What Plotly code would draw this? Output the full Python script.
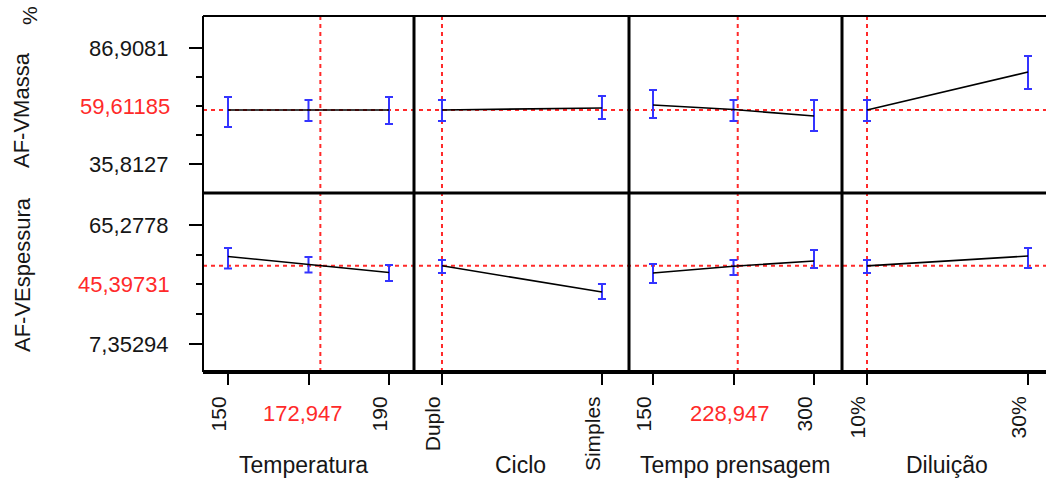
import plotly.graph_objects as go
from plotly.subplots import make_subplots

# ---------------- data ----------------
factors = ["Temperatura", "Ciclo", "Tempo prensagem", "Diluição"]
responses = ["AF-VMassa", "AF-VEspessura"]

temp_x = [150, 170, 190]
ciclo_x = [0, 1]
ciclo_labels = ["Duplo", "Simples"]
tempo_x = [150, 225, 300]
dil_x = [10, 30]
dil_labels = ["10%", "30%"]

# AF-VMassa (top row): mean, upper, lower
massa_temp = [59.60, 59.60, 59.60]
massa_temp_hi = [65.32, 64.00, 65.32]
massa_temp_lo = [52.11, 54.75, 53.43]
massa_ciclo = [59.61, 60.48]
massa_ciclo_hi = [64.00, 65.76]
massa_ciclo_lo = [54.75, 55.63]
massa_tempo = [61.80, 59.80, 56.96]
massa_tempo_hi = [68.40, 64.00, 64.00]
massa_tempo_lo = [56.10, 54.75, 50.35]
massa_dil = [59.61, 76.30]
massa_dil_hi = [64.00, 83.40]
massa_dil_lo = [54.75, 68.85]

# AF-VEspessura (bottom row)
esp_temp = [49.95, 46.00, 42.16]
esp_temp_hi = [54.08, 49.70, 45.80]
esp_temp_lo = [44.10, 42.20, 38.02]
esp_ciclo = [45.40, 32.67]
esp_ciclo_hi = [48.24, 36.56]
esp_ciclo_lo = [41.90, 29.26]
esp_tempo = [41.90, 45.20, 47.75]
esp_tempo_hi = [46.30, 48.24, 53.10]
esp_tempo_lo = [37.00, 40.94, 44.35]
esp_dil = [45.40, 50.20]
esp_dil_hi = [48.24, 54.08]
esp_dil_lo = [41.90, 44.35]

# current settings
cur_x = [172.947, 0, 228.947, 10]
cur_x_labels = ["172,947", None, "228,947", None]
cur_y = [59.61185, 45.39731]
cur_y_labels = ["59,61185", "45,39731"]

# y-axis ticks
massa_ticks = [35.8127, 86.9081]
massa_ticklabels = ["35,8127", "86,9081"]
massa_minor = [48.5866, 61.3604, 74.1343]
esp_ticks = [7.35294, 65.2778]
esp_ticklabels = ["7,35294", "65,2778"]
esp_minor = [21.8342, 36.3154, 50.7966]

# ---------------- figure ----------------
FONT = "Liberation Sans, Arial, sans-serif"
TXT = "#161616"
RED = "#ff2a2a"
BLUE = "#3434ff"

W, H = 1046, 481
L, R, T, B = 203, 0, 16, 109
PW, PH = W - L - R, H - T - B

col_px = [203, 414, 629, 842, 1046]
row_split = 193

fig = make_subplots(rows=2, cols=4, horizontal_spacing=0, vertical_spacing=0)

xs = [temp_x, ciclo_x, tempo_x, dil_x]
data = [
    [(massa_temp, massa_temp_hi, massa_temp_lo), (massa_ciclo, massa_ciclo_hi, massa_ciclo_lo),
     (massa_tempo, massa_tempo_hi, massa_tempo_lo), (massa_dil, massa_dil_hi, massa_dil_lo)],
    [(esp_temp, esp_temp_hi, esp_temp_lo), (esp_ciclo, esp_ciclo_hi, esp_ciclo_lo),
     (esp_tempo, esp_tempo_hi, esp_tempo_lo), (esp_dil, esp_dil_hi, esp_dil_lo)],
]
x_ranges = [[143.79, 196.21], [-0.175, 1.169], [127.64, 326.09], [6.894, 32.236]]
y_ranges = [[23.04, 101.0], [-6.28, 80.85]]

for r in range(2):
    for c in range(4):
        m, hi, lo = data[r][c]
        fig.add_trace(go.Scatter(
            x=xs[c], y=m, mode="lines",
            line=dict(color="black", width=1.6),
            error_y=dict(type="data", symmetric=False,
                         array=[h - v for h, v in zip(hi, m)],
                         arrayminus=[v - l for v, l in zip(m, lo)],
                         color=BLUE, thickness=2, width=4),
            showlegend=False, hoverinfo="skip"), row=r + 1, col=c + 1)

# domains
for c in range(4):
    d0 = (col_px[c] - L) / PW
    d1 = (col_px[c + 1] - L) / PW
    for r in range(2):
        idx = r * 4 + c + 1
        xa = "xaxis" if idx == 1 else f"xaxis{idx}"
        ya = "yaxis" if idx == 1 else f"yaxis{idx}"
        fig.layout[xa].domain = [d0, min(d1, 1.0)]
        ysplit = (H - B - row_split) / PH
        fig.layout[ya].domain = [ysplit, 1.0] if r == 0 else [0.0, ysplit]

x_tickvals = [temp_x, ciclo_x, tempo_x, dil_x]
x_ticktext = [["150", "", "190"], ciclo_labels, ["150", "", "300"], dil_labels]

for r in range(2):
    for c in range(4):
        fig.update_xaxes(range=x_ranges[c], showgrid=False, zeroline=False, showline=False,
                         row=r + 1, col=c + 1)
        fig.update_yaxes(range=y_ranges[r], showgrid=False, zeroline=False, showline=False,
                         showticklabels=False, ticks="", row=r + 1, col=c + 1)
        if r == 1:
            fig.update_xaxes(tickmode="array", tickvals=x_tickvals[c], ticktext=x_ticktext[c],
                             ticks="outside", ticklen=12, tickwidth=2, tickcolor="black",
                             tickangle=-90, ticklabelstandoff=3, ticklabelshift=-9,
                             tickfont=dict(family=FONT, size=21, color=TXT),
                             row=r + 1, col=c + 1)
        else:
            fig.update_xaxes(showticklabels=False, ticks="", row=r + 1, col=c + 1)

for r, (tv, tt, mn) in enumerate([(massa_ticks, massa_ticklabels, massa_minor),
                                  (esp_ticks, esp_ticklabels, esp_minor)]):
    fig.update_yaxes(showticklabels=True, tickmode="array", tickvals=tv, ticktext=tt,
                     ticks="outside", ticklen=13, tickwidth=2, tickcolor="black",
                     ticklabelstandoff=16,
                     tickfont=dict(family=FONT, size=22, color=TXT),
                     minor=dict(tickmode="array", tickvals=mn, ticks="outside", ticklen=6,
                                tickwidth=2, tickcolor="black"),
                     row=r + 1, col=1)

shapes = []
# red dashed current-value lines
for r in range(2):
    yref = "y" if r == 0 else "y5"
    shapes.append(dict(type="line", xref="paper", yref=yref, x0=0, x1=1,
                       y0=cur_y[r], y1=cur_y[r], line=dict(color=RED, width=2, dash="4px,4px"),
                       layer="below"))
for c in range(4):
    xref = "x" if c == 0 else f"x{c + 1}"
    shapes.append(dict(type="line", xref=xref, yref="paper", x0=cur_x[c], x1=cur_x[c],
                       y0=0, y1=1, line=dict(color=RED, width=2, dash="4px,4px"),
                       layer="below"))

# borders
def px2x(p):
    return (p - L) / PW

def py2y(p):
    return (H - B - p) / PH

shapes.append(dict(type="line", xref="paper", yref="paper", x0=0, x1=1, y0=1, y1=1,
                   line=dict(color="black", width=2)))
shapes.append(dict(type="line", xref="paper", yref="paper", x0=0, x1=1,
                   y0=py2y(row_split), y1=py2y(row_split), line=dict(color="black", width=3)))
shapes.append(dict(type="line", xref="paper", yref="paper", x0=0, x1=1, y0=0, y1=0,
                   line=dict(color="black", width=4)))
shapes.append(dict(type="line", xref="paper", yref="paper", x0=0, x1=0, y0=0, y1=1,
                   line=dict(color="black", width=2)))
for p in col_px[1:4]:
    shapes.append(dict(type="line", xref="paper", yref="paper", x0=px2x(p), x1=px2x(p),
                       y0=0, y1=1, line=dict(color="black", width=3)))

annotations = []
# red current x labels
label_px = [303, None, 730, None]
for c in range(4):
    if cur_x_labels[c]:
        annotations.append(dict(text=cur_x_labels[c], xref="paper", yref="paper",
                                x=px2x(label_px[c]), y=py2y(413), showarrow=False,
                                xanchor="center", yanchor="middle",
                                font=dict(family=FONT, size=22, color=RED)))
# red current y labels at middle ticks
for r, yv in enumerate([massa_minor[1], esp_minor[1]]):
    annotations.append(dict(text=cur_y_labels[r], xref="paper", yref="y" if r == 0 else "y5",
                            x=px2x(172), y=yv, showarrow=False, xanchor="right",
                            yanchor="middle", font=dict(family=FONT, size=22, color=RED)))
# factor titles
title_px = [303, 520, 735, 947]
for c in range(4):
    annotations.append(dict(text=factors[c], xref="paper", yref="paper", x=px2x(title_px[c]),
                            y=py2y(465), showarrow=False, xanchor="center", yanchor="middle",
                            font=dict(family=FONT, size=23, color=TXT)))
# response titles
annotations.append(dict(text=responses[0], xref="paper", yref="paper", x=px2x(22), y=py2y(110),
                        showarrow=False, textangle=-90, xanchor="center", yanchor="middle",
                        font=dict(family=FONT, size=22, color=TXT)))
annotations.append(dict(text="%", xref="paper", yref="paper", x=px2x(29), y=py2y(16),
                        showarrow=False, textangle=-90, xanchor="center", yanchor="middle",
                        font=dict(family=FONT, size=21, color=TXT)))
annotations.append(dict(text=responses[1], xref="paper", yref="paper", x=px2x(22), y=py2y(275),
                        showarrow=False, textangle=-90, xanchor="center", yanchor="middle",
                        font=dict(family=FONT, size=22, color=TXT)))

fig.update_layout(width=W, height=H, margin=dict(l=L, r=R, t=T, b=B, pad=0),
                  paper_bgcolor="white", plot_bgcolor="white",
                  shapes=shapes, annotations=annotations, showlegend=False,
                  font=dict(family=FONT, color=TXT))

fig.write_html("out.html")
